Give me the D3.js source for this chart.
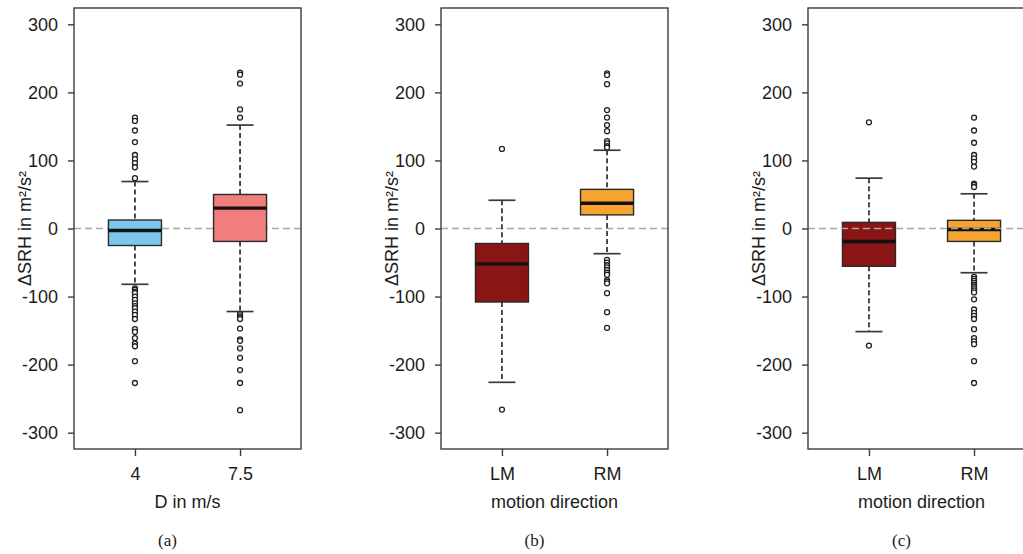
<!DOCTYPE html>
<html>
<head>
<meta charset="utf-8">
<script src="https://cdn.jsdelivr.net/npm/d3@7"></script>
<style>
  body { margin: 0; background: #fff; }
  text { font-family: "Liberation Sans", Arial, sans-serif; fill: #1c1c1c; }
</style>
</head>
<body>
<div id="chart"></div>
<script>
// panel captions and axis texts
const panelLabels = ["(a)", "(b)", "(c)"]
const xTitles = ["D in m/s", "motion direction", "motion direction"]
const groupsA = ["4", "7.5"]
const groupsB = ["LM", "RM"]
const groupsC = ["LM", "RM"]
const yTicks = [-300, -200, -100, 0, 100, 200, 300]

// box stats per group: [lower whisker, Q1, median, Q3, upper whisker]
const statsA = [[-82, -25, -3, 12.5, 69], [-122, -19, 30, 50, 152]]
const statsB = [[-226, -108, -52, -22, 41.5], [-37, 20, 37, 57.5, 115]]
const statsC = [[-151.5, -55.5, -19, 9, 74], [-65, -19, -1.5, 12, 51]]

// outliers per group
const outliersA = [
    [163, 158, 144, 127, 108, 102, 96, 90, 74,
     -88, -90, -93, -95, -100, -105, -110, -114, -117, -122, -127, -133, -148, -152, -161, -169, -173, -195, -227],
    [229, 226, 213, 175, 163,
     -126, -129, -130.5, -133, -147, -163, -165, -176, -190, -208, -227, -267]
]
const outliersB = [
    [117, -266],
    [228, 225.5, 212, 174, 163, 152, 143, 128.5, 125, 121, 119,
     -46, -50, -54, -57, -61, -65, -68, -76, -78, -80.5, -95, -123, -146]
]
const outliersC = [
    [156, -172],
    [163, 144, 126, 108, 103, 98, 91, 66, 64, 61,
     -71, -74, -77, -80, -83, -85.5, -88, -91, -94, -104, -119, -124, -128.5, -133, -148, -161, -166, -170, -195, -227]
]

const fillsA = ["#7cc6ee", "#f27d7d"]
const fillsBC = ["#8a1515", "#f6a430"]

const width = 1023, height = 554
const frame = { top: 8, bottom: 449, w: 227 }
const panelLeft = [74, 441, 808]

const svg = d3.select("#chart").append("svg")
    .attr("width", width)
    .attr("height", height)

const y = d3.scaleLinear().domain([-324, 324]).range([frame.bottom, frame.top])

const panels = [
    { groups: groupsA, stats: statsA, outliers: outliersA, fills: fillsA, lineOnTop: false },
    { groups: groupsB, stats: statsB, outliers: outliersB, fills: fillsBC, lineOnTop: false },
    { groups: groupsC, stats: statsC, outliers: outliersC, fills: fillsBC, lineOnTop: true }
]

panels.forEach(function (p, pi) {
    const left = panelLeft[pi]
    const g = svg.append("g").attr("transform", `translate(${left},0)`)

    // R style x range: groups at 1 and 2, padded
    const x = d3.scaleLinear().domain([0.42, 2.58]).range([0, frame.w])
    const boxW = 53, capW = 27

    function zeroLine() {
        g.append("line")
            .attr("x1", 0).attr("x2", frame.w)
            .attr("y1", y(0)).attr("y2", y(0))
            .attr("stroke", "#a8a8a8")
            .attr("stroke-width", 1.5)
            .attr("stroke-dasharray", "7,4")
    }
    if (!p.lineOnTop) zeroLine()

    p.stats.forEach(function (s, gi) {
        const cx = x(gi + 1)
        const bg = g.append("g")

        // whiskers
        bg.append("line")
            .attr("x1", cx).attr("x2", cx)
            .attr("y1", y(s[4])).attr("y2", y(s[3]))
            .attr("stroke", "#2e2e2e").attr("stroke-width", 1.7)
            .attr("stroke-dasharray", "5,3")
        bg.append("line")
            .attr("x1", cx).attr("x2", cx)
            .attr("y1", y(s[1])).attr("y2", y(s[0]))
            .attr("stroke", "#2e2e2e").attr("stroke-width", 1.7)
            .attr("stroke-dasharray", "5,3")
        // caps
        ;[s[0], s[4]].forEach(function (v) {
            bg.append("line")
                .attr("x1", cx - capW / 2).attr("x2", cx + capW / 2)
                .attr("y1", y(v)).attr("y2", y(v))
                .attr("stroke", "#3a3a3a").attr("stroke-width", 1.7)
        })
        // box
        bg.append("rect")
            .attr("x", cx - boxW / 2)
            .attr("y", y(s[3]))
            .attr("width", boxW)
            .attr("height", y(s[1]) - y(s[3]))
            .attr("fill", p.fills[gi])
            .attr("stroke", "#2a2a2a")
            .attr("stroke-width", 1.4)
        // median
        bg.append("line")
            .attr("x1", cx - boxW / 2).attr("x2", cx + boxW / 2)
            .attr("y1", y(s[2])).attr("y2", y(s[2]))
            .attr("stroke", "#111").attr("stroke-width", 3.4)
        // outliers
        bg.selectAll("circle")
            .data(p.outliers[gi])
            .join("circle")
            .attr("cx", cx)
            .attr("cy", d => y(d))
            .attr("r", 2.5)
            .attr("fill", "#fff")
            .attr("stroke", "#222")
            .attr("stroke-width", 1.3)
    })

    if (p.lineOnTop) zeroLine()

    // frame
    g.append("rect")
        .attr("x", 0).attr("y", frame.top)
        .attr("width", frame.w).attr("height", frame.bottom - frame.top)
        .attr("fill", "none")
        .attr("stroke", "#3c3c3c")
        .attr("stroke-width", 1.4)

    // y axis
    const ya = g.append("g")
        .call(d3.axisLeft(y).tickValues(yTicks).tickSize(6).tickPadding(10).tickFormat(d => String(d)))
    ya.select(".domain").remove()
    ya.selectAll("line").attr("stroke", "#3c3c3c").attr("stroke-width", 1.4)
    ya.selectAll("text").style("font-size", "18px").attr("fill", "#1c1c1c")
        .style("font-family", "'Liberation Sans', Arial, sans-serif")

    // x axis
    const xa = g.append("g")
        .attr("transform", `translate(0,${frame.bottom})`)
        .call(d3.axisBottom(x).tickValues([1, 2]).tickSize(7).tickPadding(11).tickFormat((d, i) => p.groups[i]))
    xa.select(".domain").remove()
    xa.selectAll("line").attr("stroke", "#3c3c3c").attr("stroke-width", 1.4)
    xa.selectAll("text").style("font-size", "18px").attr("fill", "#1c1c1c")
        .style("font-family", "'Liberation Sans', Arial, sans-serif")

    // axis titles
    g.append("text")
        .attr("transform", `translate(-49,${y(0)}) rotate(-90)`)
        .attr("text-anchor", "middle")
        .attr("dy", "0.35em")
        .style("font-size", "18px")
        .text("ΔSRH in m²/s²")

    g.append("text")
        .attr("x", frame.w / 2)
        .attr("y", 508)
        .attr("text-anchor", "middle")
        .style("font-size", "18px")
        .text(xTitles[pi])

    g.append("text")
        .attr("x", frame.w / 2 - 20)
        .attr("y", 546)
        .attr("text-anchor", "middle")
        .style("font-family", "'Liberation Serif', 'Times New Roman', serif")
        .style("font-size", "17px")
        .text(panelLabels[pi])
})
</script>
</body>
</html>
